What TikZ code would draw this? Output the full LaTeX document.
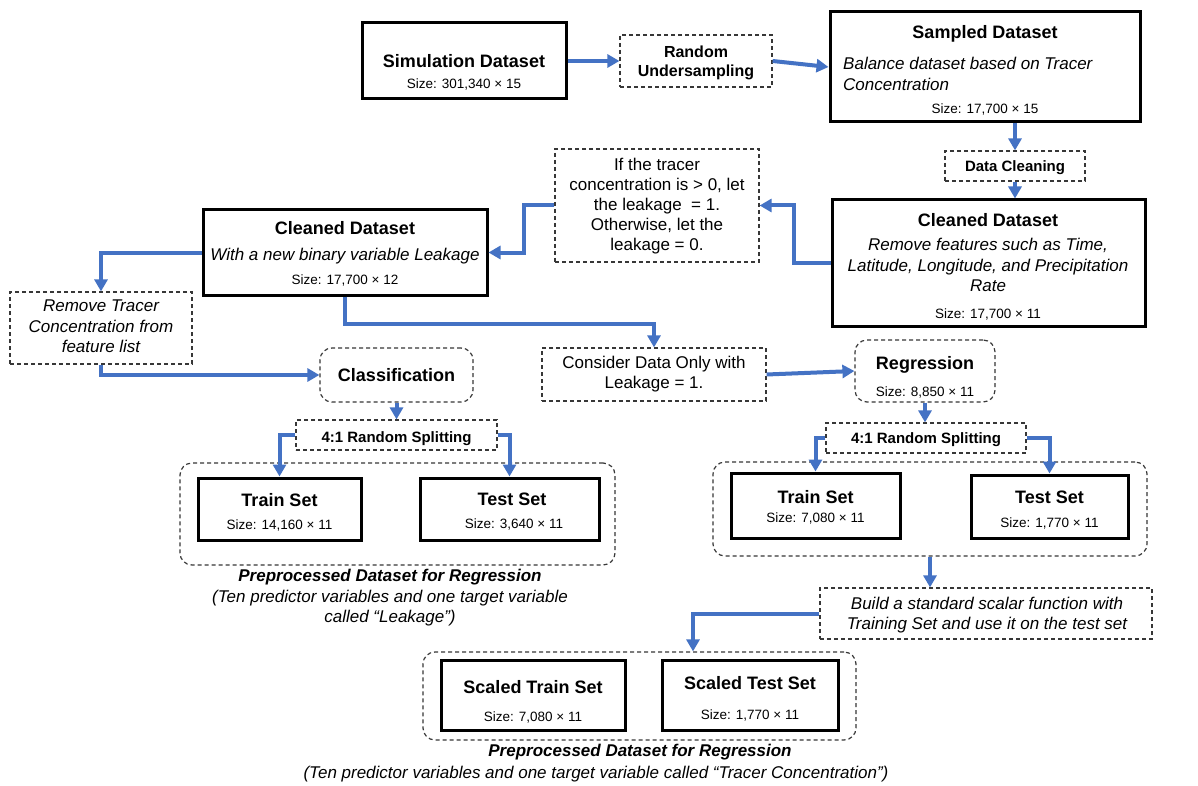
\documentclass[tikz,border=0pt]{standalone}
\usepackage{fontspec}
\setmainfont{Liberation Sans}
\usetikzlibrary{arrows.meta,calc}
\definecolor{flowblue}{RGB}{68,114,196}
\definecolor{dashgray}{RGB}{55,55,55}
\newcommand\mkbox[6]{\node[#1, minimum width={#5-#3}, minimum height={#6-#4}] (#2) at ({(#3+#5)/2},{(#4+#6)/2}) {};}
\begin{document}
\begin{tikzpicture}[x=1pt,y=-1pt,
  thickbox/.style={draw=black, line width=3pt, inner sep=0pt, fill=white},
  dashbox/.style={draw=dashgray, line width=1.2pt, dash pattern=on 4pt off 3pt, inner sep=0pt, fill=white},
  roundbox/.style={dashbox, rounded corners=12pt, fill=none},
  flow/.style={draw=flowblue, line width=4pt, -{Triangle[length=12pt,width=13pt]}},
  ttl/.style={anchor=base, inner sep=0pt, font=\fontsize{18}{21}\selectfont\bfseries},
  bld/.style={anchor=base, inner sep=0pt, font=\fontsize{16}{19}\selectfont\bfseries},
  bls/.style={anchor=base, inner sep=0pt, font=\fontsize{15}{18}\selectfont\bfseries},
  sz/.style={anchor=base, inner sep=0pt, font=\fontsize{13.5}{16}\selectfont},
  itx/.style={anchor=base, inner sep=0pt, font=\fontsize{17}{20}\selectfont\itshape},
  rgl/.style={anchor=base, inner sep=0pt, font=\fontsize{17}{20}\selectfont},
  captxt/.style={anchor=base, inner sep=0pt, font=\fontsize{17}{20}\selectfont\bfseries\itshape},
]
\fill[white] (0,0) rectangle (1198,786);
\useasboundingbox (0,0) rectangle (1198,786);

% groups
\mkbox{roundbox}{grpl}{180}{463}{615}{565}
\mkbox{roundbox}{grpr}{713}{462}{1147}{556}
\mkbox{roundbox}{grps}{423}{652}{856}{740}

% boxes
\mkbox{thickbox}{sim}{362}{23}{566}{99}
\mkbox{dashbox}{ru}{620}{35}{772}{87}
\mkbox{thickbox}{samp}{830}{12}{1140}{122}
\mkbox{dashbox}{dc}{945}{151}{1085}{181}
\mkbox{thickbox}{cr}{832}{200}{1145}{326}
\mkbox{dashbox}{cond}{555}{149}{759}{262}
\mkbox{thickbox}{cl}{203}{210}{487}{295}
\mkbox{dashbox}{rem}{10}{292}{192}{364}
\mkbox{roundbox}{cls}{320}{348}{473}{402}
\mkbox{dashbox}{cons}{542}{348}{766}{401}
\mkbox{roundbox}{reg}{855}{340}{995}{402}
\mkbox{dashbox}{spl}{296}{420}{497}{450}
\mkbox{thickbox}{trl}{198}{478}{361}{540}
\mkbox{thickbox}{tsl}{420}{478}{599}{540}
\mkbox{dashbox}{spr}{826}{423}{1026}{453}
\mkbox{thickbox}{trr}{731}{473}{900}{538}
\mkbox{thickbox}{tsr}{971}{475}{1128}{538}
\mkbox{dashbox}{build}{820}{588}{1152}{639}
\mkbox{thickbox}{sctr}{441}{660}{625}{730}
\mkbox{thickbox}{scts}{662}{660}{838}{730}

% texts
\node[ttl] (simT) at (464,68) {Simulation Dataset};
\node[sz] (simS) at (464,88.5) {Size: 301,340 × 15};
\node[bld] (ruA) at (696,57.5) {Random};
\node[bld] (ruB) at (696,76.5) {Undersampling};
\node[ttl] (sampT) at (985,39) {Sampled Dataset};
\node[itx, anchor=base west] (sampA) at (843,70) {Balance dataset based on Tracer};
\node[itx, anchor=base west] (sampB) at (843,91) {Concentration};
\node[sz] (sampS) at (985,113.5) {Size: 17,700 × 15};
\node[bls] (dcT) at (1015,171.5) {Data Cleaning};
\node[ttl] (crT) at (988,227) {Cleaned Dataset};
\node[itx] (crA) at (988,251) {Remove features such as Time,};
\node[itx] (crB) at (988,271) {Latitude, Longitude, and Precipitation};
\node[itx] (crC) at (988,291) {Rate};
\node[sz] (crS) at (988,318.5) {Size: 17,700 × 11};
\node[rgl] (condA) at (657,170.5) {If the tracer};
\node[rgl] (condB) at (657,190.5) {concentration is > 0, let};
\node[rgl] (condC) at (657,210.5) {the leakage \ = 1.};
\node[rgl] (condD) at (657,230.5) {Otherwise, let the};
\node[rgl] (condE) at (657,250.5) {leakage = 0.};
\node[ttl] (clT) at (345,235) {Cleaned Dataset};
\node[itx] (clA) at (345,260) {With a new binary variable Leakage};
\node[sz] (clS) at (345,284.5) {Size: 17,700 × 12};
\node[itx] (remA) at (101,311) {Remove Tracer};
\node[itx] (remB) at (101,332) {Concentration from};
\node[itx] (remC) at (101,352) {feature list};
\node[ttl] (clsT) at (396.5,381) {Classification};
\node[rgl] (consA) at (654,368.5) {Consider Data Only with};
\node[rgl] (consB) at (654,388.5) {Leakage = 1.};
\node[ttl] (regT) at (925,369) {Regression};
\node[sz] (regS) at (925,396.5) {Size: 8,850 × 11};
\node[bls] (splT) at (396.5,442) {4:1 Random Splitting};
\node[ttl] (trlT) at (279.5,506) {Train Set};
\node[sz] (trlS) at (279.5,529.5) {Size: 14,160 × 11};
\node[ttl] (tslT) at (512,505) {Test Set};
\node[sz] (tslS) at (514,528.5) {Size: 3,640 × 11};
\node[captxt] (capLA) at (390,581) {Preprocessed Dataset for Regression};
\node[itx] (capLB) at (390,602) {(Ten predictor variables and one target variable};
\node[itx] (capLC) at (390,622) {called “Leakage”)};
\node[bls] (sprT) at (926,443) {4:1 Random Splitting};
\node[ttl] (trrT) at (815.5,503) {Train Set};
\node[sz] (trrS) at (815.5,522.5) {Size: 7,080 × 11};
\node[ttl] (tsrT) at (1049.5,503) {Test Set};
\node[sz] (tsrS) at (1049.5,527.5) {Size: 1,770 × 11};
\node[itx] (buildA) at (987,609) {Build a standard scalar function with};
\node[itx] (buildB) at (987,629) {Training Set and use it on the test set};
\node[ttl] (sctrT) at (533,693) {Scaled Train Set};
\node[sz] (sctrS) at (533,721.5) {Size: 7,080 × 11};
\node[ttl] (sctsT) at (750,689) {Scaled Test Set};
\node[sz] (sctsS) at (750,719.5) {Size: 1,770 × 11};
\node[captxt] (capSA) at (640,756) {Preprocessed Dataset for Regression};
\node[itx] (capSB) at (596,778.5) {(Ten predictor variables and one target variable called “Tracer Concentration”)};

% connectors
\coordinate (scin) at ($(grps.north)+(53.5,0)$);
\draw[flow] (sim.east) -- (ru.west);
\draw[flow] (ru.east) -- (samp.west);
\draw[flow] (dc.north |- samp.south) -- (dc.north);
\draw[flow] (dc.south) -- (dc.south |- cr.north);
\draw[flow] (cr.west) -- ++(-37,0) |- (cond.east);
\draw[flow] (cond.west) -- ++(-30,0) |- (cl.east);
\draw[flow] (cl.west) -| (rem.north);
\draw[flow] (rem.south) |- (cls.west);
\draw[flow] (cl.south) -- ++(0,27) -| (cons.north);
\draw[flow] (cons.east) -- (reg.west);
\draw[flow] (cls.south) -- (spl.north);
\draw[flow] (spl.west) -| (trl.north);
\draw[flow] (spl.east) -| (tsl.north);
\draw[flow] (reg.south) -- (reg.south |- spr.north);
\draw[flow] (spr.west) -| (trr.north);
\draw[flow] (spr.east) -| (tsr.north);
\draw[flow] (grpr.south) -- (grpr.south |- build.north);
\draw[flow] (build.west) -| (scin);
\end{tikzpicture}
\end{document}
